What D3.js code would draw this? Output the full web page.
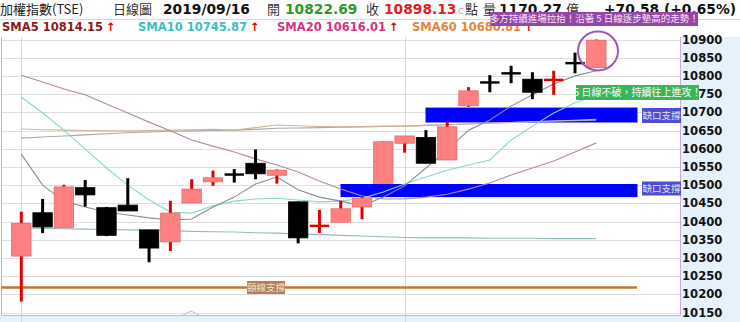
<!DOCTYPE html>
<html><head><meta charset="utf-8">
<script src="https://cdn.jsdelivr.net/npm/d3@7/dist/d3.min.js"></script>
<style>html,body{margin:0;padding:0;background:#fff;}svg{display:block;}</style>
</head><body><div id="chart"></div>
<script>
// ---- data ----
const dates = d3.range(28); // trading-day slots, last = 2019/09/16
const open  = [10305,10424,10383,10493,10438,10445,10377,10344,10451,10509,10530,10560,10527,10454,10387,10398,10440,10505,10615,10631,10569,10718,10783,10808,10791,10788,10836,10822.69];
const high  = [10427,10462,10501,10514,10440,10519,10377,10457,10516,10540,10544,10598,10543,10455,10432,10457,10468,10620,10635,10651,10673,10769,10802,10828,10810,10814,10864,10900];
const low   = [10180,10368,10383,10441,10360,10429,10288,10319,10451,10498,10507,10516,10504,10340,10368,10398,10406,10505,10589,10560,10569,10715,10755,10780,10736,10748,10807,10822.69];
const close = [10395,10385,10495,10473,10362,10429,10327,10423,10489,10520,10528,10531,10541,10355,10389,10435,10464,10619,10635,10560,10660,10759,10781,10806,10755,10790,10834,10898.13];
const sma5  = [10585,10500,10456,10440,10426,10418,10410,10404,10407,10440,10467,10503,10522,10487,10467,10456,10443,10467,10498,10547,10596,10651,10679,10717,10748,10778,10800,10814.15];
const sma10 = [10742,10698,10651,10599,10547,10500,10459,10426,10423,10443,10456,10462,10464,10459,10454,10456,10464,10481,10503,10522,10541,10555,10569,10624,10662,10698,10726,10745.87];
const sma20 = [10802,10783,10764,10748,10723,10698,10673,10649,10624,10607,10591,10572,10555,10536,10511,10489,10470,10462,10462,10467,10475,10489,10506,10528,10547,10566,10591,10616.01];
const sma60 = [10654,10652,10651,10650,10649,10649,10650,10651,10652,10653,10651,10658,10665,10663,10661,10660,10661,10662,10662,10664,10666,10668,10670,10672,10674,10676,10678,10680.81];
const smaLong = [10629,10632,10635,10638,10641,10644,10646,10648,10649,10650,10651,10653,10656,10657,10658,10659,10660,10661,10662,10664,10666,10668,10670,10672,10674,10676,10677,10678];
const smaFlat = [10382,10381,10380,10379,10378,10377,10376,10375,10373,10372,10371,10369,10368,10366,10364,10362,10360,10358,10356,10355,10355,10355,10354,10354,10354,10353,10353,10353];
const yTicks = d3.range(10150, 10901, 50);
const neckline = 10219;
const gaps = [[10713,10672],[10503,10467]];
const legend = [
  {name:"SMA5", value:"10814.15", color:"#8b1a1a", x:2},
  {name:"SMA10", value:"10745.87", color:"#3cc0c0", x:138},
  {name:"SMA20", value:"10616.01", color:"#d63384", x:277},
  {name:"SMA60", value:"10680.81", color:"#e8843c", x:412}
];

// ---- chart ----
const W = 740, H = 322;
const svg = d3.select("#chart").append("svg").attr("width", W).attr("height", H);
const x = d3.scaleLinear().domain([0, 27]).range([21.3, 596.3]);
const y = d3.scaleLinear().domain([10150, 10900]).range([312.5, 39.5]);
const plotL = 1.5, plotR = 680.5, plotB = 315.5, plotT = 37;
const cw = 19.4;

// backgrounds
svg.append("rect").attr("x",0).attr("y",0).attr("width",W).attr("height",H).attr("fill","#fff");
svg.append("rect").attr("x",681).attr("y",plotT).attr("width",59).attr("height",H-plotT).attr("fill","#e5f1fb");
svg.append("rect").attr("x",0).attr("y",316).attr("width",W).attr("height",6).attr("fill","#e5f1fb");
svg.append("line").attr("x1",0).attr("x2",W).attr("y1",19.5).attr("y2",19.5).attr("stroke","#d8d8d8");

// grid
svg.append("g").selectAll("line").data(yTicks).join("line")
  .attr("x1",plotL).attr("x2",plotR)
  .attr("y1",d=>Math.round(y(d))+0.5).attr("y2",d=>Math.round(y(d))+0.5)
  .attr("stroke","#dedede").attr("stroke-width",1);
[0,18].forEach(i=>{
  svg.append("line").attr("x1",Math.round(x(i))+0.5).attr("x2",Math.round(x(i))+0.5)
    .attr("y1",plotT).attr("y2",H).attr("stroke","#d9d9d9");
});

// border
svg.append("path").attr("d",`M${plotL},${plotT}V${plotB}H${plotR}V${plotT}`)
  .attr("fill","none").attr("stroke","#cfa9dc").attr("stroke-width",1);
svg.append("path").attr("d","M183,315 L191,311 L199,315").attr("fill","none").attr("stroke","#c9b3d6");

// y axis labels
svg.append("g").selectAll("text").data(yTicks).join("text")
  .attr("x",682).attr("y",d=>y(d)).attr("dy","0.36em")
  .attr("font-family","DejaVu Sans, Verdana, sans-serif").attr("font-weight","bold")
  .attr("font-size",11.6).attr("fill","#111").text(d=>d);

// gap boxes
const gapX = [[425.5,637.5],[340.5,637.5]];
gaps.forEach((g,k)=>{
  svg.append("rect").attr("x",gapX[k][0]).attr("y",y(g[0]))
    .attr("width",gapX[k][1]-gapX[k][0]).attr("height",y(g[1])-y(g[0])).attr("fill","#0000ff");
});

// neckline
svg.append("line").attr("x1",plotL).attr("x2",637).attr("y1",y(neckline)).attr("y2",y(neckline))
  .attr("stroke","#c27a2c").attr("stroke-width",2.5);

// MA lines
const line = d3.line().x((d,i)=>x(i)).y(d=>y(d));
[[smaFlat,"#8fbcbc"],[smaLong,"#a9a9a9"],[sma60,"#cdb597"],[sma20,"#b48a9c"],[sma10,"#86d6cc"],[sma5,"#8c8c8c"]]
  .forEach(([d,c])=>{
    svg.append("path").datum(d).attr("d",line).attr("fill","none").attr("stroke",c).attr("stroke-width",1.1);
  });

// candles
const cg = svg.append("g");
dates.forEach(i=>{
  const up = close[i] >= open[i];
  const wickC = up ? "#e00000" : "#000";
  const cx = x(i);
  cg.append("line").attr("x1",cx).attr("x2",cx).attr("y1",y(high[i])).attr("y2",y(low[i]))
    .attr("stroke",wickC).attr("stroke-width",3);
  const top = y(Math.max(open[i],close[i])), bot = y(Math.min(open[i],close[i]));
  if (bot - top < 2) {
    cg.append("rect").attr("x",cx-cw/2).attr("y",(top+bot)/2-1.2).attr("width",cw).attr("height",2.4)
      .attr("fill",wickC);
  } else {
    cg.append("rect").attr("x",cx-cw/2).attr("y",top).attr("width",cw).attr("height",bot-top)
      .attr("fill",up ? "#ff8080" : "#000").attr("stroke",up ? "#e26a6a" : "#000").attr("stroke-width",0.8);
  }
});

// label boxes
function labelBox(x0,y0,w,h,fill,txt,color,fs){
  svg.append("rect").attr("x",x0).attr("y",y0).attr("width",w).attr("height",h).attr("fill",fill);
  svg.append("text").attr("x",x0+w/2).attr("y",y0+h/2).attr("dy","0.36em").attr("text-anchor","middle")
    .attr("font-family","Noto Sans CJK TC, sans-serif").attr("font-size",fs).attr("fill",color).text(txt);
}
labelBox(247,281,38,13,"#b97c55","頸線支撐","#f6e6d8",9.5);
labelBox(642,108,39,15,"#4d4dd2","缺口支撐","#e4e4ee",9.5);
labelBox(642,181.5,39,14,"#4d4dd2","缺口支撐","#e4e4ee",9.5);
labelBox(576,85,123,15,"#3cb55a","5 日線不破，持續往上進攻！","#ffffff",10);

// circle
svg.append("ellipse").attr("cx",598).attr("cy",51).attr("rx",20).attr("ry",19.5)
  .attr("fill","none").attr("stroke","#9b59b6").attr("stroke-width",2);

// header row 1
const hf = "DejaVu Sans, Verdana, sans-serif";
const cjk = "Noto Sans CJK TC, sans-serif";
function t(xp,yp,txt,opt){
  const e = svg.append("text").attr("x",xp).attr("y",yp).text(txt)
    .attr("font-family",opt.f||hf).attr("font-size",opt.s||13.5).attr("fill",opt.c||"#111");
  if (opt.b) e.attr("font-weight","bold");
  return e;
}
t(0,14.2,"加權指數(TSE)",{f:cjk,s:13,c:"#222"});
t(113,14.2,"日線圖",{f:cjk,s:13,c:"#333"});
t(163,14,"2019/09/16",{b:1,s:13.8});
t(267,14.2,"開",{f:cjk,s:13,c:"#333"});
t(285,14,"10822.69",{b:1,s:13.8,c:"#2a9a2a"});
t(366,14.2,"收",{f:cjk,s:13,c:"#333"});
t(384,14,"10898.13",{b:1,s:13.8,c:"#e02020"});
t(458,14,"c",{s:10,c:"#d89a7a"});
t(465,14.2,"點",{f:cjk,s:13,c:"#333"});
t(483,14.2,"量",{f:cjk,s:13,c:"#333"});
t(499,14,"1170.27",{b:1,s:13.8});
t(566,14.2,"億",{f:cjk,s:13,c:"#333"});
t(604,14,"+70.58 (+0.65%)",{b:1,s:13.8});

// header row 2 legend
legend.forEach(l=>{
  const e = svg.append("text").attr("x",l.x).attr("y",30.5)
    .attr("font-family",hf).attr("font-weight","bold").attr("font-size",11.5);
  e.append("tspan").attr("fill",l.color).text(l.name+" "+l.value);
  e.append("tspan").attr("fill","#e00000").attr("dx",3).text("↑");
});

// top annotation
labelBox(490.5,12,207.5,14,"#9346a8","多方持續進場拉抬！沿著 5 日線逐步墊高的走勢！","#fde6f4",9.5);
</script></body></html>
